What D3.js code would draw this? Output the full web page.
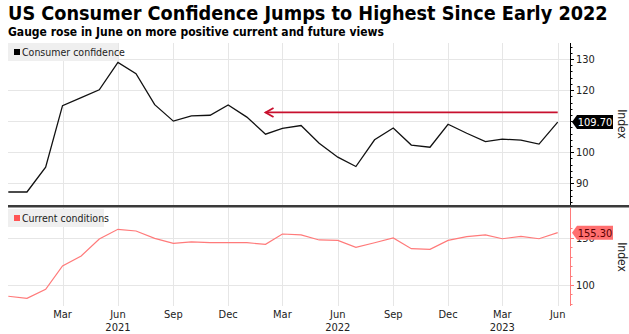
<!DOCTYPE html>
<html><head><meta charset="utf-8">
<script src="https://cdn.jsdelivr.net/npm/d3@7"></script>
<style>
body{margin:0;background:#fff;}
svg{display:block;font-family:"DejaVu Sans Condensed","DejaVu Sans",Verdana,sans-serif;}
</style></head>
<body>
<svg id="c" width="629" height="334"></svg>
<script>
const months = ["2020-12","2021-01","2021-02","2021-03","2021-04","2021-05","2021-06","2021-07","2021-08","2021-09","2021-10","2021-11","2021-12","2022-01","2022-02","2022-03","2022-04","2022-05","2022-06","2022-07","2022-08","2022-09","2022-10","2022-11","2022-12","2023-01","2023-02","2023-03","2023-04","2023-05","2023-06"];
const confidence = [87.2,87.2,95.2,115.0,117.6,120.1,128.9,125.3,115.3,110.0,111.7,111.9,115.2,111.3,105.8,107.7,108.6,102.9,98.4,95.4,104.0,107.8,102.3,101.6,109.0,106.1,103.4,104.2,103.9,102.6,109.7];
const current = [88.1,85.9,95.5,120.1,130.7,148.6,158.9,157.1,149.3,144.1,145.5,144.7,144.7,144.7,143.0,153.9,152.9,147.6,147.2,139.8,144.7,149.7,138.4,137.7,147.2,151.1,152.9,148.9,151.4,148.9,155.3];
const topTicks = [90,100,110,120,130];
const botTicks = [100,150];
const xTickMonths = ["2021-03","2021-06","2021-09","2021-12","2022-03","2022-06","2022-09","2022-12","2023-03","2023-06"];
const xTickLabels = ["Mar","Jun","Sep","Dec","Mar","Jun","Sep","Dec","Mar","Jun"];
const yearLabels = [["2021-06","2021"],["2022-06","2022"],["2023-03","2023"]];
const arrowLevel = 112.8, arrowFrom = "2022-02", arrowTo = "2023-06";

const parse = d3.utcParse("%Y-%m");
const dates = months.map(parse);
const svg = d3.select("#c");

const x = d3.scaleUtc().domain([parse("2020-12"), parse("2023-06")]).range([8.3, 557.7]);
const yT = d3.scaleLinear().domain([90,130]).range([183.3,59]);
const yB = d3.scaleLinear().domain([100,150]).range([285,237.7]);
const axisX = 570, left = 8;
const topY0 = 43, topY1 = 205, botY0 = 208, botY1 = 306;

// title
svg.append("text").attr("x",8).attr("y",19.5).attr("font-size",19.7).attr("font-weight","bold").attr("fill","#000")
  .text("US Consumer Confidence Jumps to Highest Since Early 2022");
svg.append("text").attr("x",8).attr("y",35.5).attr("font-size",12).attr("font-weight","bold").attr("fill","#000")
  .text("Gauge rose in June on more positive current and future views");

const grid = svg.append("g").attr("stroke","#e6e6e6").attr("stroke-width",1);
xTickMonths.forEach(m=>{
  const xx = Math.round(x(parse(m)))+0.5;
  grid.append("line").attr("x1",xx).attr("x2",xx).attr("y1",topY0).attr("y2",topY1);
  grid.append("line").attr("x1",xx).attr("x2",xx).attr("y1",botY0).attr("y2",botY1);
});
topTicks.forEach(t=>{
  const yy = Math.round(yT(t))+0.5;
  grid.append("line").attr("x1",left).attr("x2",axisX).attr("y1",yy).attr("y2",yy);
});
botTicks.forEach(t=>{
  const yy = Math.round(yB(t))+0.5;
  grid.append("line").attr("x1",left).attr("x2",axisX).attr("y1",yy).attr("y2",yy);
});

function legend(y, w, color, label){
  svg.append("rect").attr("x",left).attr("y",y).attr("width",w).attr("height",18).attr("fill","#efefef");
  svg.append("rect").attr("x",14).attr("y",y+6).attr("width",6).attr("height",6).attr("fill",color);
  svg.append("text").attr("x",22).attr("y",y+13).attr("font-size",10.5).attr("fill","#222").text(label);
}
legend(43,110,"#000","Consumer confidence");
legend(209,96,"#f55","Current conditions");

svg.append("path").datum(confidence).attr("fill","none").attr("stroke","#111").attr("stroke-width",1.3)
  .attr("d", d3.line().x((d,i)=>x(dates[i])).y(d=>yT(d)));

// arrow
const ax0 = x(parse(arrowFrom)), ax1 = x(parse(arrowTo)), ay = yT(arrowLevel);
svg.append("line").attr("x1",ax0).attr("x2",ax1).attr("y1",ay).attr("y2",ay).attr("stroke","#c8102e").attr("stroke-width",1.8);
svg.append("path").attr("d",`M${ax0+8},${ay-4.5} L${ax0},${ay} L${ax0+8},${ay+4.5}`)
  .attr("fill","none").attr("stroke","#c8102e").attr("stroke-width",1.8).attr("stroke-linejoin","miter");

svg.append("path").datum(current).attr("fill","none").attr("stroke","#ff7a7a").attr("stroke-width",1.2)
  .attr("d", d3.line().x((d,i)=>x(dates[i])).y(d=>yB(d)));

// top axis
const gT = svg.append("g").attr("transform",`translate(${axisX},0)`);
gT.append("line").attr("x1",0.5).attr("x2",0.5).attr("y1",topY0).attr("y2",topY1).attr("stroke","#000");
d3.range(84,136,2).forEach(v=>{
  const yy = yT(v); if(yy<topY0||yy>topY1) return;
  const major = v%10===0;
  gT.append("line").attr("x1",0.5).attr("x2",major?4:2.5).attr("y1",Math.round(yy)+0.5).attr("y2",Math.round(yy)+0.5).attr("stroke","#000");
});
topTicks.filter(t=>t!==110).forEach(t=>{
  gT.append("text").attr("x",6).attr("y",yT(t)+4).attr("font-size",11).attr("fill","#222").text(t);
});
const gB = svg.append("g").attr("transform",`translate(${axisX},0)`);
gB.append("line").attr("x1",0.5).attr("x2",0.5).attr("y1",botY0).attr("y2",botY1).attr("stroke","#ff7a7a");
d3.range(80,170,10).forEach(v=>{
  const yy = yB(v); if(yy<botY0||yy>botY1) return;
  gB.append("line").attr("x1",0.5).attr("x2",v%50===0?4:2.5).attr("y1",Math.round(yy)+0.5).attr("y2",Math.round(yy)+0.5).attr("stroke","#ff7a7a");
});
botTicks.forEach(t=>{
  gB.append("text").attr("x",6).attr("y",yB(t)+4).attr("font-size",11).attr("fill","#222").text(t);
});

[(topY0+topY1)/2,(botY0+botY1)/2].forEach(cy=>{
  svg.append("text").attr("transform",`translate(618,${cy}) rotate(90)`).attr("text-anchor","middle")
    .attr("font-size",12).attr("fill","#222").text("Index");
});

function tag(yy, txt, bg, fg){
  const g = svg.append("g").attr("transform",`translate(${axisX+2},${yy})`);
  g.append("path").attr("d","M0,0 L5,-7 L41,-7 L41,7 L5,7 Z").attr("fill",bg);
  g.append("text").attr("x",23).attr("y",4).attr("text-anchor","middle").attr("font-size",11).attr("fill",fg).text(txt);
}
tag(yT(confidence[confidence.length-1]), confidence[confidence.length-1].toFixed(2), "#000", "#fff");
tag(yB(current[current.length-1]), current[current.length-1].toFixed(2), "#ff6f6f", "#5a0000");

svg.append("rect").attr("x",left).attr("y",205).attr("width",629-left).attr("height",2.5).attr("fill","#3a3a3a");

xTickMonths.forEach((m,i)=>{
  svg.append("text").attr("x",x(parse(m))).attr("y",318).attr("text-anchor","middle").attr("font-size",11).attr("fill","#222").text(xTickLabels[i]);
});
yearLabels.forEach(([m,l])=>{
  svg.append("text").attr("x",x(parse(m))).attr("y",331).attr("text-anchor","middle").attr("font-size",11).attr("fill","#222").text(l);
});
</script>
</body></html>
